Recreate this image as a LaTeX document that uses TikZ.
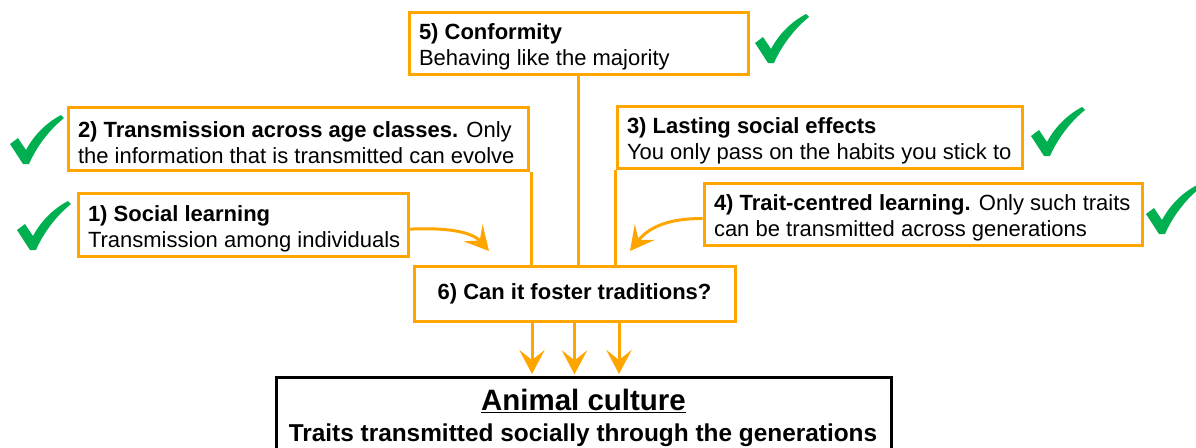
\documentclass[tikz,border=0pt]{standalone}
\usepackage{fontspec}
\setmainfont{Liberation Sans}
\usetikzlibrary{arrows.meta}
\definecolor{boxorange}{HTML}{FFA500}
\definecolor{tickgreen}{HTML}{00B050}

% first and second line of a box: a left-aligned line of fixed width,
% the first one with a taller strut so the text sits a little lower
\newcommand\topline[2]{\makebox[#1][l]{\rule{0pt}{18pt}#2}}
\newcommand\lowline[2]{\makebox[#1][l]{#2}}

\tikzset{
  stepbox/.style={draw=boxorange, line width=2.25pt, fill=white,
    inner xsep=7.5pt, inner ysep=0pt, align=left,
    font=\fontsize{16.5}{19.5}\selectfont},
  link/.style={draw=boxorange, line width=2.25pt},
  flow/.style={link, -{Stealth[length=18pt,width=19pt,inset=7.5pt]}},
  tick/.pic={
    \fill[tickgreen] (-16,-19) -- (-8,-25) -- (0,-13)
      .. controls (8,-28) and (20,-40) .. (35,-48) -- (38,-45)
      .. controls (22,-32) and (10,-15) .. (3,1) -- (-3,1) -- cycle;
  }
}

\begin{document}
\begin{tikzpicture}[x=0.75pt, y=-0.75pt]
  \useasboundingbox (0,0) rectangle (1196,447);

  % criteria boxes
  \node[stepbox, minimum width=254.25pt, minimum height=46.5pt]
    (conf) at (578.5,43) {\topline{239.25pt}{\textbf{5) Conformity}}\\
      \lowline{239.25pt}{Behaving like the majority}};
  \node[stepbox, minimum width=345pt, minimum height=47.25pt]
    (age) at (298,138.5) {\topline{330pt}{\textbf{2) Transmission across age classes.} Only}\\
      \lowline{330pt}{the information that is transmitted can evolve}};
  \node[stepbox, minimum width=247.5pt, minimum height=47.25pt]
    (soc) at (243,224.5) {\topline{232.5pt}{\textbf{1) Social learning}}\\
      \lowline{232.5pt}{Transmission among individuals}};
  \node[stepbox, minimum width=303.75pt, minimum height=46.5pt]
    (last) at (819.5,137) {\topline{288.75pt}{\textbf{3) Lasting social effects}}\\
      \lowline{288.75pt}{You only pass on the habits you stick to}};
  \node[stepbox, minimum width=328.5pt, minimum height=46.5pt]
    (trait) at (923,214) {\topline{313.5pt}{\textbf{4) Trait-centred learning.} Only such traits}\\
      \lowline{313.5pt}{can be transmitted across generations}};
  \node[stepbox, align=center, minimum width=240.75pt, minimum height=41.25pt]
    (trad) at (574.5,293.5) {\textbf{6) Can it foster traditions?}};

  % result box, running past the lower edge
  \draw[line width=2.25pt] (276,377) rectangle (891,470);
  \coordinate (cult) at (583.5,377);
  \node[font=\fontsize{22.1}{26}\selectfont\bfseries] (culttitle) at (583.5,401)
    {\underline{Animal culture}};
  \node[font=\fontsize{18.3}{22}\selectfont\bfseries] (cultdef) at (583,435)
    {Traits transmitted socially through the generations};

  % lines feeding box 6
  \draw[link] (conf.south) -- (conf.south |- trad.north);
  \draw[link] ([xshift=1.5pt]age.south east) -- ([xshift=1.5pt]age.south east |- trad.north);
  \draw[link] (last.south west) -- (last.south west |- trad.north);

  % curved arrows from boxes 1 and 4
  \coordinate (socend) at (489,251);
  \coordinate (traitend) at (630,251);
  \draw[flow] ([yshift=-3.5pt]soc.east) .. controls (455,227) and (474,234) .. (socend);
  \draw[flow] ([yshift=-3.5pt]trait.west) .. controls (668,218) and (648,228) .. (traitend);

  % arrows into the result box
  \draw[flow] (532,320) -- (532,374);
  \draw[flow] (trad.south) -- ([yshift=2pt]cult -| trad.south);
  \draw[flow] (619,320) -- (619,374);

  % check marks
  \pic at (771,62) {tick};
  \pic at (26,163) {tick};
  \pic at (33,249) {tick};
  \pic at (1047,155) {tick};
  \pic at (1162,233) {tick};
\end{tikzpicture}
\end{document}
